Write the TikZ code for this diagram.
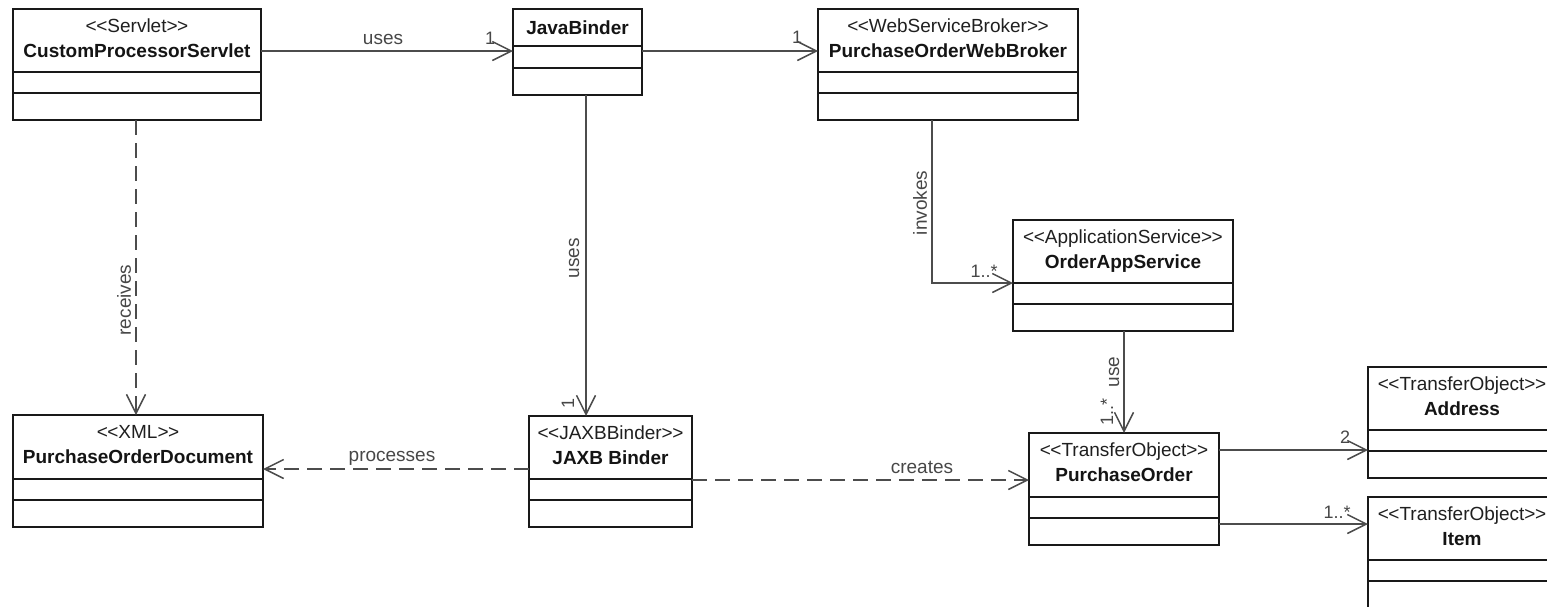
\documentclass[tikz,border=0pt]{standalone}
\usepackage{fontspec}
\setmainfont{Liberation Sans}[Ligatures=TeXOff]
\usetikzlibrary{arrows.meta,fit}

\tikzset{
  classbox/.style={draw=black!90, line width=1.8pt, inner sep=0pt, outer sep=0pt},
  classrule/.style={draw=black!90, line width=1.8pt},
  stereotext/.style={font=\fontsize{19}{22}\selectfont, inner sep=0pt, text=black!88, anchor=base},
  titletext/.style={font=\fontsize{19}{22}\selectfont\bfseries, inner sep=0pt, text=black!92, anchor=base},
  link/.style={draw=black!70, line width=1.5pt,
    -{Straight Barb[length=19pt,width=19pt]}},
  dep/.style={link, dash pattern=on 15pt off 8pt},
  lbl/.style={font=\fontsize{19}{22}\selectfont, text=black!72, inner sep=0pt},
  mult/.style={font=\fontsize{18}{20}\selectfont, text=black!72, inner sep=0pt},
}

% stereotype brackets
\newcommand\stereoname[1]{<\kern-0.5pt<#1>\kern-0.5pt>}

% UML class: name, left, top, right, bottom, first rule, second rule, stereotype, title
\newcommand\umlclass[9]{%
  \node[classbox, fit={(#2,#3) (#4,#5)}] (#1) {};
  \draw[classrule] (#1.west |- 0,#6) -- (#1.east |- 0,#6);
  \draw[classrule] (#1.west |- 0,#7) -- (#1.east |- 0,#7);
  \ifx\relax#8\relax
    \node[titletext] (#1-name) at ({(#2+#4)/2},{#3+25.5}) {#9};
  \else
    \node[stereotext] (#1-stereo) at ({(#2+#4)/2},{#3+23.5}) {\stereoname{#8}};
    \node[titletext] (#1-name) at ({(#2+#4)/2},{#3+48.5}) {#9};
  \fi
}

\begin{document}
\begin{tikzpicture}[x=1pt,y=-1pt]
\path[use as bounding box] (0,0) rectangle (1547,606);
\clip (0,0) rectangle (1547,606);

% classes
\umlclass{servlet}{13}{9}{261}{120}{72}{93}{Servlet}{CustomProcessorServlet}
\umlclass{javabinder}{513}{9}{642}{95}{46}{68}{}{JavaBinder}
\umlclass{broker}{818}{9}{1078}{120}{72}{93}{WebServiceBroker}{PurchaseOrderWebBroker}
\umlclass{appservice}{1013}{220}{1233}{331}{283}{304}{ApplicationService}{OrderAppService}
\umlclass{podoc}{13}{415}{263}{527}{479}{500}{XML}{PurchaseOrderDocument}
\umlclass{jaxb}{529}{416}{692}{527}{479}{500}{JAXBBinder}{JAXB Binder}
\umlclass{po}{1029}{433}{1219}{545}{497}{518}{TransferObject}{PurchaseOrder}
\umlclass{address}{1368}{367}{1556}{478}{430}{451}{TransferObject}{Address}
\umlclass{item}{1368}{497}{1556}{625}{560}{581}{TransferObject}{Item}

% associations
\draw[link] (servlet.east |- 0,51) -- (javabinder.west |- 0,51);
\node[lbl] (l-uses1) at (383,39) {uses};
\node[mult] (m-uses1) at (490,38) {1};

\draw[link] (javabinder.east |- 0,51) -- (broker.west |- 0,51);
\node[mult] (m-broker) at (797,37) {1};

\draw[link] (javabinder.south -| 586,0) -- (jaxb.north -| 586,0);
\node[lbl, rotate=90] (l-uses2) at (574,258) {uses};
\node[mult, rotate=90] (m-uses2) at (568,403) {1};

\draw[link] (broker.south -| 932,0) |- (appservice.west |- 0,283);
\node[lbl, rotate=90] (l-invokes) at (920,203) {invokes};
\node[mult] (m-invokes) at (984,271) {1..*};

\draw[link] (appservice.south -| 1124,0) -- (po.north -| 1124,0);
\node[lbl, rotate=90] (l-use) at (1114,372) {use};
\node[mult, rotate=90] (m-use) at (1107,412) {1..*};

\draw[link] (po.east |- 0,450) -- (address.west |- 0,450);
\node[mult] (m-address) at (1345,437) {2};

\draw[link] (po.east |- 0,524) -- (item.west |- 0,524);
\node[mult] (m-item) at (1337,512) {1..*};

% dependencies
\draw[dep] (servlet.south -| 136,0) -- (podoc.north -| 136,0);
\node[lbl, rotate=90] (l-receives) at (124,300) {receives};

\draw[dep] (jaxb.west |- 0,469) -- (podoc.east |- 0,469);
\node[lbl] (l-processes) at (392,458) {processes};

\draw[dep] (jaxb.east |- 0,480) -- (po.west |- 0,480);
\node[lbl] (l-creates) at (922,467) {creates};
\end{tikzpicture}
\end{document}
